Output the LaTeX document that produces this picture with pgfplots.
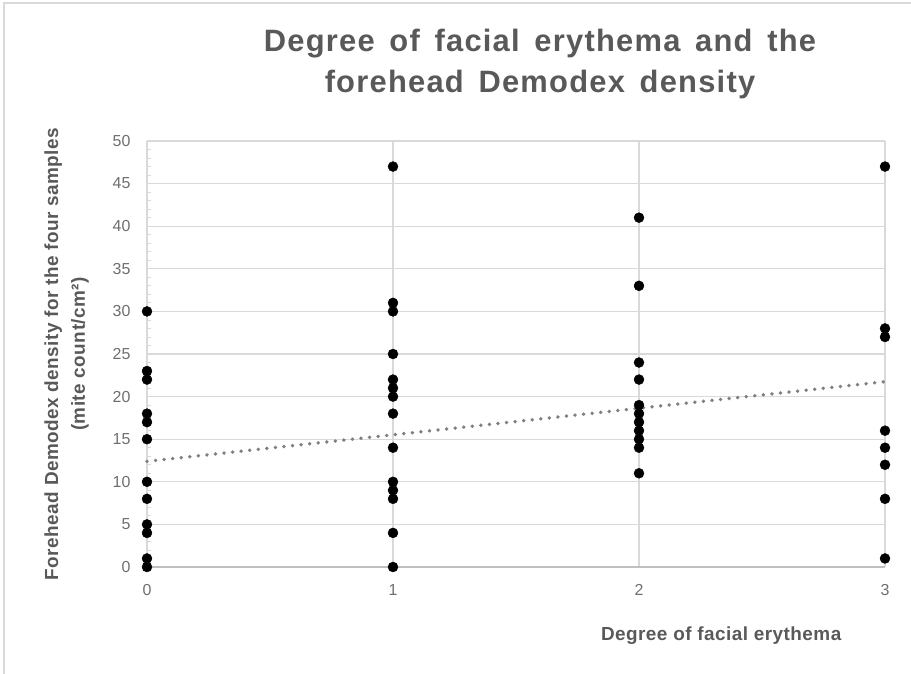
\documentclass[border=0pt]{standalone}
\usepackage{pgfplots}
\pgfplotsset{compat=1.18}
\usepackage{fontspec}
\setmainfont{Liberation Sans}
\newfontfamily\labelfont[LetterSpace=2.5]{Liberation Sans}
\newfontfamily\titlefont[LetterSpace=4,WordSpace=1.5]{Liberation Sans}
\definecolor{gridgray}{HTML}{D9D9D9}
\definecolor{axisgray}{HTML}{BFBFBF}
\definecolor{textgray}{HTML}{595959}
\definecolor{ticktxt}{HTML}{6E6E6E}
\definecolor{trendgray}{HTML}{7F7F7F}
\begin{document}
\begin{tikzpicture}[x=1bp,y=1bp]
  \useasboundingbox (-147,-107) rectangle (764,567);
  % chart frame (only left and top edges visible)
  \draw[gridgray, line width=1.2bp] (-143,-107) -- (-143,564) -- (764,564);
  \begin{axis}[
    at={(0,0)}, anchor=south west,
    scale only axis,
    width=738bp, height=426bp,
    xmin=0, xmax=3, ymin=0, ymax=50,
    xtick={0,1,2,3},
    ytick={0,5,...,50},
    minor y tick num=4,
    axis x line=bottom, axis y line=left,
    x axis line style={-, draw=axisgray, line width=1.6bp},
    y axis line style={-, draw=gridgray, line width=1.2bp},
    xmajorgrids, ymajorgrids,
    major grid style={draw=gridgray, line width=1.2bp},
    xtick style={draw=none},
    ytick style={draw=gridgray, line width=0.8bp},
    minor tick style={draw=gridgray, line width=0.8bp},
    tick align=inside,
    major tick length=4bp, minor tick length=4bp,
    ticklabel style={font=\fontsize{16}{18}\selectfont, text=ticktxt},
    /pgf/number format/assume math mode=true,
    xticklabel style={yshift=-14bp},
    yticklabel style={xshift=-13bp},
    clip=false,
    ylabel={Forehead Demodex density for the four samples\\(mite count/cm²)},
    ylabel style={at={(axis description cs:-0.109,0.5)}, anchor=center,
      align=center, font=\labelfont\bfseries\fontsize{19}{27}\selectfont, text=textgray},
    xlabel={Degree of facial erythema},
    xlabel style={at={(axis description cs:0.778,-0.162)}, anchor=center,
      font=\labelfont\bfseries\fontsize{19}{21}\selectfont, text=textgray},
  ]
    % trendline (linear)
    \addplot[trendgray, line width=3.8bp, line cap=round,
      dash pattern=on 0.01bp off 8.6bp] coordinates {(0,12.4) (3,21.75)};
    % observations
    \addplot[only marks, mark=*, mark size=5bp, black] coordinates {
      (0,30) (0,23) (0,22) (0,18) (0,17) (0,15) (0,10) (0,8) (0,5) (0,4) (0,1) (0,0)
      (1,47) (1,31) (1,30) (1,25) (1,22) (1,21) (1,20) (1,18) (1,14) (1,10) (1,9) (1,8) (1,4) (1,0)
      (2,41) (2,33) (2,24) (2,22) (2,19) (2,18) (2,17) (2,16) (2,15) (2,14) (2,11)
      (3,47) (3,28) (3,27) (3,16) (3,14) (3,12) (3,8) (3,1)
    };
  \end{axis}
  \node[align=center, text=textgray, font=\titlefont\bfseries\fontsize{31}{41}\selectfont]
    at (393,503) {Degree of facial erythema and the\\forehead Demodex density};
\end{tikzpicture}
\end{document}
